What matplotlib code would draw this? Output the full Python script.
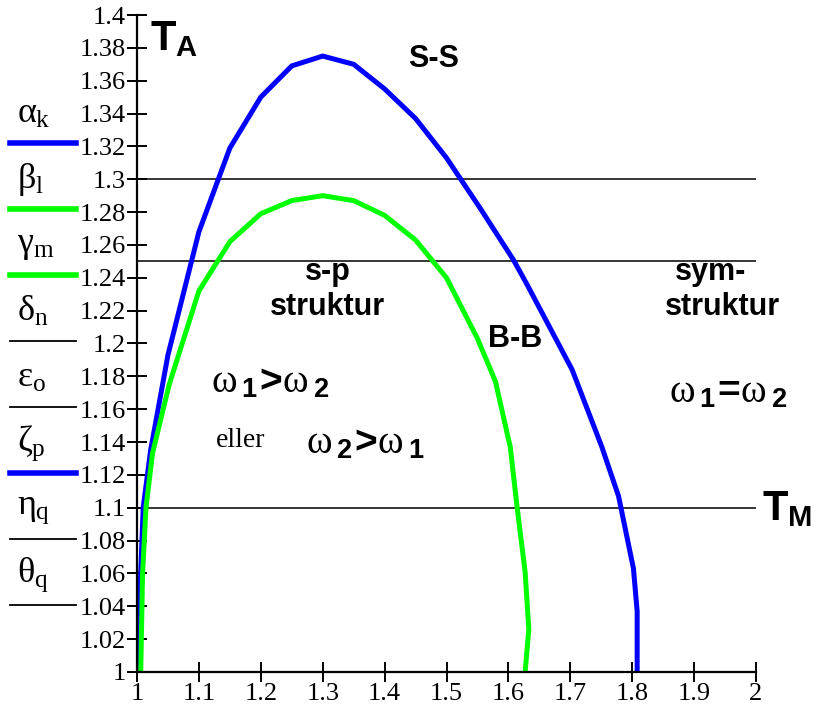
import matplotlib
matplotlib.use("Agg")
import matplotlib.pyplot as plt
from matplotlib.lines import Line2D

plt.rcParams['mathtext.fontset'] = 'custom'
plt.rcParams['mathtext.rm'] = 'Liberation Serif'
plt.rcParams['mathtext.it'] = 'Liberation Serif'
plt.rcParams['mathtext.bf'] = 'Liberation Sans:bold'

# curves
blue_x = [1.0, 1.005, 1.01, 1.022, 1.05, 1.1, 1.15, 1.2, 1.25, 1.3, 1.35, 1.4,
          1.45, 1.5, 1.555, 1.608, 1.63, 1.703, 1.751, 1.778, 1.802, 1.808, 1.808]
blue_y = [1.0, 1.05, 1.1, 1.135, 1.193, 1.268, 1.319, 1.35, 1.369, 1.375, 1.37, 1.355,
          1.337, 1.313, 1.282, 1.251, 1.236, 1.184, 1.137, 1.107, 1.063, 1.037, 1.0]
green_x = [1.006, 1.009, 1.0145, 1.025, 1.052, 1.1, 1.15, 1.2, 1.25, 1.3, 1.35, 1.4,
           1.45, 1.5, 1.55, 1.579, 1.603, 1.614, 1.627, 1.633, 1.627]
green_y = [1.0, 1.06, 1.1, 1.133, 1.175, 1.232, 1.262, 1.279, 1.287, 1.29, 1.287, 1.278,
           1.263, 1.24, 1.203, 1.177, 1.137, 1.1006, 1.061, 1.026, 1.0]
hlines_y = [1.3, 1.25, 1.1]

x_ticks = [1, 1.1, 1.2, 1.3, 1.4, 1.5, 1.6, 1.7, 1.8, 1.9, 2]
y_ticks = [1 + 0.02 * i for i in range(21)]

legend_labels = [r'$\alpha_{\mathrm{k}}$', r'$\beta_{\mathrm{l}}$', r'$\gamma_{\mathrm{m}}$',
                 r'$\delta_{\mathrm{n}}$', r'$\varepsilon_{\mathrm{o}}$', r'$\zeta_{\mathrm{p}}$',
                 r'$\eta_{\mathrm{q}}$', r'$\theta_{\mathrm{q}}$']
legend_colors = ['#0000ff', '#00ff00', '#00ff00', 'black', 'black', '#0000ff', 'black', 'black']
legend_widths = [4, 4, 4, 1.3, 1.3, 4, 1.3, 1.3]

W, H = 817, 707
fig = plt.figure(figsize=(W / 100, H / 100), dpi=100)
ax = fig.add_axes([137 / W, 1 - 672 / H, (756 - 137) / W, (672 - 15) / H])

for y in hlines_y:
    ax.plot([1, 2], [y, y], color='black', lw=1.1)
ax.plot(blue_x, blue_y, color='#0000ff', lw=3.6, solid_joinstyle='miter')
ax.plot(green_x, green_y, color='#00ff00', lw=3.6, solid_joinstyle='miter')

ax.set_xlim(1, 2)
ax.set_ylim(1, 1.4)
ax.set_xticks(x_ticks)
ax.set_yticks(y_ticks)
ax.set_xticklabels(['%g' % v for v in x_ticks])
ax.set_yticklabels(['%g' % round(v, 2) for v in y_ticks])
for s in ['top', 'right']:
    ax.spines[s].set_visible(False)
for s in ['left', 'bottom']:
    ax.spines[s].set_linewidth(1.6)
ax.tick_params(direction='inout', length=14, width=1.4, labelsize=19, pad=1)
for lab in ax.get_xticklabels() + ax.get_yticklabels():
    lab.set_family('Liberation Serif')

bold = dict(family='Liberation Sans', fontweight='bold', fontsize=22, ha='center', va='center')
omega = dict(fontsize=28, ha='center', va='center')


def rel(a, op, b):
    return r'${\omega\,}_{\mathbf{%s}}\!\mathbf{%s}\!{\omega\,}_{\mathbf{%s}}$' % (a, op, b)


ax.text(1.021, 1.399, r'$\mathbf{T_A}$', fontsize=30, ha='left', va='top')
ax.text(1.479, 1.373, 'S-S', **bold)
ax.text(1.308, 1.2435, 's-p', **bold)
ax.text(1.308, 1.222, 'struktur', **bold)
ax.text(1.611, 1.203, 'B-B', **bold)
ax.text(1.926, 1.2435, 'sym-', **bold)
ax.text(1.946, 1.222, 'struktur', **bold)
ax.text(1.216, 1.177, rel('1', '>', '2'), **omega)
ax.text(1.168, 1.141, 'eller', family='Liberation Serif', fontsize=20, ha='center', va='center')
ax.text(1.369, 1.140, rel('2', '>', '1'), **omega)
ax.text(1.955, 1.171, rel('1', '=', '2'), **omega)
ax.text(2.01, 1.1, r'$\mathbf{T_M}$', fontsize=30, ha='left', va='center', clip_on=False)

# legend column at the left, as in the original
for i, (lab, c, w) in enumerate(zip(legend_labels, legend_colors, legend_widths)):
    ty = 113 + 66 * i
    ly = 143 + 66 * i
    fig.text(17 / W, 1 - ty / H, lab, fontsize=26, ha='left', va='center')
    fig.add_artist(Line2D([10 / W, 76 / W], [1 - ly / H, 1 - ly / H],
                          color=c, lw=w, transform=fig.transFigure))

fig.savefig('out.png', dpi=100)
